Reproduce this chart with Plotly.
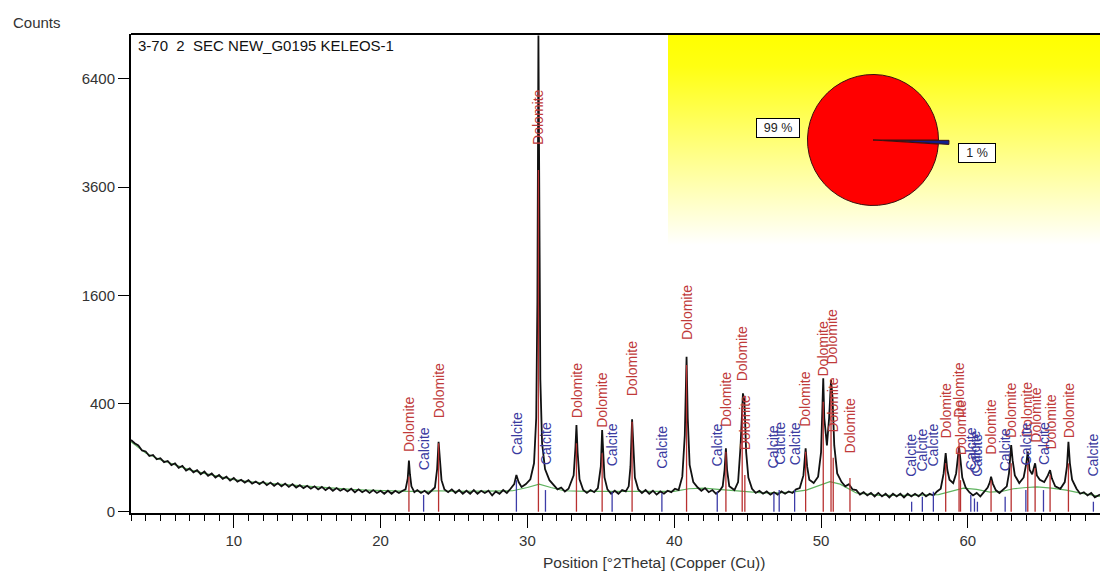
import base64
import numpy as np
import plotly.graph_objects as go

# ---------------- data ----------------
# measured pattern (°2Theta, counts)
pattern = [
    (3.0, 176), (3.25, 160), (3.5, 150), (3.75, 128), (4.0, 124), (4.25, 106), (4.5, 110), (4.75, 94),
    (5.0, 98), (5.25, 84), (5.5, 88), (5.75, 74), (6.0, 80), (6.25, 66), (6.5, 72), (6.75, 58),
    (7.0, 64), (7.25, 53), (7.5, 59), (7.75, 48), (8.0, 55), (8.25, 44), (8.5, 50), (8.75, 40),
    (9.0, 46), (9.25, 37), (9.5, 42), (9.75, 33), (10.0, 39), (10.25, 31), (10.5, 35), (10.75, 29),
    (11.0, 34), (11.25, 27), (11.5, 31), (11.75, 26), (12.0, 31), (12.25, 24), (12.5, 29), (12.75, 23),
    (13.0, 28), (13.25, 22), (13.5, 27), (13.75, 21), (14.0, 26), (14.25, 20), (14.5, 24), (14.75, 19),
    (15.0, 23), (15.25, 18), (15.5, 22), (15.75, 17), (16.0, 21), (16.25, 16), (16.5, 20), (16.75, 15),
    (17.0, 19), (17.25, 15), (17.5, 18), (17.75, 14), (18.0, 18), (18.25, 13), (18.5, 17), (18.75, 13),
    (19.0, 16), (19.25, 12), (19.5, 16), (19.75, 12), (20.0, 15), (20.25, 11), (20.5, 15), (20.75, 11),
    (21.0, 15), (21.25, 12), (21.5, 15),
    (21.7, 17), (21.85, 38), (21.93, 89), (22.0, 48), (22.1, 22),
    (22.3, 13), (22.5, 16), (22.75, 12), (23.0, 15), (23.25, 11), (23.5, 16),
    (23.7, 20), (23.85, 62), (23.95, 167), (24.05, 88), (24.15, 34), (24.35, 17),
    (24.6, 13), (24.85, 17), (25.1, 12), (25.35, 16), (25.6, 11), (25.85, 15), (26.1, 11), (26.35, 16),
    (26.6, 11), (26.85, 15), (27.1, 12), (27.35, 15), (27.6, 9), (27.85, 14), (28.1, 11), (28.35, 16),
    (28.6, 12), (28.85, 18),
    (29.1, 26), (29.25, 46), (29.4, 30), (29.6, 21), (29.9, 26), (30.2, 36),
    (30.45, 80), (30.6, 300), (30.68, 1500), (30.75, 7750), (30.8, 3200), (30.88, 600), (31.0, 160),
    (31.2, 62), (31.5, 34),
    (31.8, 24), (32.05, 17), (32.3, 20), (32.55, 14), (32.8, 18),
    (33.15, 45), (33.27, 140), (33.34, 257), (33.42, 120), (33.55, 36),
    (33.8, 16), (34.05, 12), (34.3, 16), (34.55, 13), (34.8, 19),
    (35.0, 70), (35.09, 228), (35.15, 120), (35.25, 40),
    (35.45, 17), (35.7, 11), (35.95, 15), (36.2, 11), (36.45, 16), (36.7, 14),
    (36.9, 22), (37.02, 70), (37.13, 292), (37.2, 140), (37.32, 40),
    (37.55, 17), (37.8, 12), (38.05, 16), (38.3, 11), (38.55, 15), (38.8, 10), (39.05, 14), (39.3, 11),
    (39.55, 15), (39.8, 13), (40.05, 18), (40.3, 16),
    (40.55, 42), (40.72, 200), (40.84, 821), (40.92, 300), (41.05, 75), (41.3, 30),
    (41.6, 20), (41.85, 15), (42.1, 19), (42.35, 13), (42.6, 16), (42.85, 11), (43.1, 15),
    (43.3, 22), (43.43, 60), (43.52, 137), (43.6, 60), (43.75, 22),
    (44.1, 16), (44.35, 30), (44.52, 150), (44.68, 479), (44.78, 420), (44.9, 120), (45.05, 40),
    (45.3, 18), (45.55, 12), (45.8, 15), (46.05, 11), (46.3, 14), (46.55, 10), (46.8, 13), (47.05, 10),
    (47.3, 14), (47.55, 11), (47.8, 14), (48.05, 12), (48.3, 17), (48.55, 19),
    (48.8, 45), (48.95, 137), (49.05, 70), (49.2, 35), (49.5, 28), (49.8, 42),
    (50.0, 120), (50.1, 400), (50.15, 608), (50.22, 300), (50.4, 150), (50.55, 300), (50.68, 593),
    (50.78, 450), (50.9, 150), (51.1, 50),
    (51.4, 30), (51.65, 22), (51.9, 26), (52.15, 17), (52.4, 16), (52.65, 10), (52.9, 13), (53.15, 9),
    (53.4, 12), (53.65, 8), (53.9, 12), (54.15, 8), (54.4, 11), (54.65, 7), (54.9, 11), (55.15, 8),
    (55.4, 11), (55.65, 7), (55.9, 11), (56.15, 8), (56.4, 11), (56.65, 8), (56.9, 12), (57.15, 8),
    (57.4, 11), (57.65, 9), (57.9, 14), (58.15, 18),
    (58.35, 50), (58.49, 117), (58.6, 60), (58.75, 35), (59.0, 28), (59.2, 50), (59.32, 100),
    (59.4, 144), (59.5, 90), (59.62, 40),
    (59.85, 20), (60.1, 13), (60.35, 9), (60.6, 12), (60.85, 8), (61.1, 14), (61.35, 20),
    (61.5, 30), (61.58, 42), (61.7, 27),
    (61.9, 16), (62.15, 12), (62.4, 17), (62.65, 22),
    (62.8, 50), (62.95, 152), (63.05, 90), (63.2, 45), (63.5, 28), (63.8, 40),
    (63.98, 80), (64.08, 123), (64.2, 60), (64.38, 48), (64.58, 80), (64.7, 45), (64.9, 35), (65.2, 30),
    (65.45, 45), (65.6, 59), (65.72, 38), (65.95, 22), (66.3, 18), (66.6, 30),
    (66.75, 70), (66.85, 167), (66.95, 80), (67.1, 35),
    (67.4, 18), (67.65, 11), (67.9, 13), (68.15, 9), (68.4, 12), (68.65, 7), (69.0, 10),
]

# fitted background (green)
bg_deg = [3, 4, 5, 6, 7, 8, 9, 10, 11, 12, 13, 14, 15, 16, 17, 18, 19, 20, 21, 22, 23, 24, 25, 26, 27, 28,
          29, 30, 30.8, 31.6, 32.5, 34, 36, 38, 40, 41, 42, 43, 44, 45, 46, 47, 48, 49, 50, 50.6, 51.3,
          52.4, 54, 56, 58, 58.8, 59.7, 60.6, 61.5, 62.3, 63.1, 64, 64.7, 65.7, 66.7, 67.6, 69]
bg_counts = [167, 118, 92, 74, 60, 50, 42, 35, 31, 28, 26, 24, 22, 20, 18.5, 17, 16, 15, 14, 14, 14, 15,
             14, 14, 14, 14, 15, 20, 26, 20, 15, 14, 14, 13, 14, 18, 19, 17, 15, 14, 12, 12, 13, 16, 24,
             31, 26, 12, 9, 9, 10, 14, 19, 17, 13, 14, 18, 20, 21, 19, 16, 12, 8]

# reference sticks
dolomite_pos = [21.93, 23.95, 30.75, 33.34, 35.09, 37.13, 40.84, 43.52, 44.63, 44.81, 48.95, 50.15,
                50.68, 50.83, 51.97, 58.49, 59.40, 59.50, 61.58, 62.95, 64.08, 64.58, 65.60, 66.85]
dolomite_counts = [42, 160, 3990, 160, 117, 277, 735, 123, 377, 46, 123, 413,
                   506, 99, 39, 80, 160, 34, 34, 80, 85, 65, 46, 80]
calcite_pos = [22.93, 29.25, 31.23, 35.77, 39.16, 42.93, 46.79, 47.15, 48.20, 56.17, 56.90, 57.65,
               60.20, 60.45, 60.65, 62.54, 63.95, 65.15, 68.55]
calcite_counts = [9.5, 34, 16, 13.7, 11.6, 13.7, 12, 16, 16, 3.4, 7.7, 13.7,
                  9.5, 6, 3.4, 7.7, 16, 16, 3.4]

# phase composition (pie)
phase_names = ["Calcite", "Dolomite"]
phase_pct = [1, 99]

y_tick_counts = [0, 400, 1600, 3600, 6400]
x_tick_vals = [10, 20, 30, 40, 50, 60]

sample_title = "3-70\u00a0 2\u00a0 SEC NEW_G0195 KELEOS-1"

# ---------------- styling ----------------
FONT = "Liberation Sans, Arial, sans-serif"
DOL_STICK = "#b83030"
DOL_TEXT = "#c03a3a"
CAL_STICK = "#3c3ca8"
CAL_TEXT = "#3a3aa0"

W, H = 1100, 571
ML, MR, MT, MB = 131, 0, 34, 58
PW, PH = W - ML - MR, H - MT - MB


def px_x(p):
    return (p - ML) / PW


def px_y(p):
    return (H - MB - p) / PH


def sq(v):
    return np.sqrt(np.asarray(v, dtype=float))


def stick_xy(pos, cnt):
    xs, ys = [], []
    for p, c in zip(pos, cnt):
        xs += [p, p, None]
        ys += [0.0, float(np.sqrt(c)), None]
    return xs, ys


pat_x = [p[0] for p in pattern]
pat_y = [p[1] for p in pattern]

fig = go.Figure()

fig.add_trace(go.Scatter(x=bg_deg, y=sq(bg_counts), mode="lines",
                         line=dict(color="#5fb35f", width=1.2), hoverinfo="skip"))
fig.add_trace(go.Scatter(x=pat_x, y=sq(pat_y), mode="lines",
                         line=dict(color="#111111", width=1.8), hoverinfo="skip"))

cx, cy = stick_xy(calcite_pos, calcite_counts)
fig.add_trace(go.Scatter(x=cx, y=cy, mode="lines", line=dict(color=CAL_STICK, width=1.3), hoverinfo="skip"))
dx, dy = stick_xy(dolomite_pos, dolomite_counts)
fig.add_trace(go.Scatter(x=dx, y=dy, mode="lines", line=dict(color=DOL_STICK, width=1.3), hoverinfo="skip"))

# pie inset
fig.add_trace(go.Pie(labels=phase_names, values=phase_pct, sort=False, direction="clockwise",
                     rotation=90, pull=[0.16, 0], textinfo="none", hoverinfo="skip",
                     marker=dict(colors=["#12208f", "#ff0000"], line=dict(color="#3a1010", width=1)),
                     domain=dict(x=[px_x(873 - 76), px_x(873 + 76)], y=[px_y(140 + 76), px_y(140 - 76)]),
                     showlegend=False))

annotations = []
for p, c in zip(dolomite_pos, dolomite_counts):
    annotations.append(dict(x=p, y=float(np.sqrt(c)), xref="x", yref="y", text="Dolomite",
                            textangle=-90, showarrow=False, xanchor="center", yanchor="bottom",
                            yshift=23, font=dict(family=FONT, size=14, color=DOL_TEXT)))
for p, c in zip(calcite_pos, calcite_counts):
    annotations.append(dict(x=p, y=float(np.sqrt(c)), xref="x", yref="y", text="Calcite",
                            textangle=-90, showarrow=False, xanchor="center", yanchor="bottom",
                            yshift=23, font=dict(family=FONT, size=14, color=CAL_TEXT)))

# pie labels
annotations.append(dict(x=px_x(778), y=px_y(128), xref="paper", yref="paper",
                        xanchor="center", yanchor="middle",
                        text=f"{phase_pct[1]} %", showarrow=False, bgcolor="white",
                        bordercolor="black", borderwidth=1, borderpad=1, width=40, height=16,
                        font=dict(family=FONT, size=12.5, color="#222")))
annotations.append(dict(x=px_x(977), y=px_y(153), xref="paper", yref="paper",
                        xanchor="center", yanchor="middle",
                        text=f"{phase_pct[0]} %", showarrow=False, bgcolor="white",
                        bordercolor="black", borderwidth=1, borderpad=1, width=34, height=16,
                        font=dict(family=FONT, size=12.5, color="#222")))

annotations.append(dict(x=0, y=1, xref="paper", yref="paper", xanchor="left", yanchor="top",
                        xshift=5, yshift=-1, text=sample_title, showarrow=False,
                        font=dict(family=FONT, size=15, color="#111")))
annotations.append(dict(x=px_x(37), y=px_y(23), xref="paper", yref="paper", text="Counts",
                        xanchor="center", yanchor="middle",
                        showarrow=False, font=dict(family=FONT, size=15, color="#333")))
annotations.append(dict(x=px_x(654), y=px_y(562), xref="paper", yref="paper",
                        xanchor="center", yanchor="middle",
                        text="Position [°2Theta] (Copper (Cu))", showarrow=False,
                        font=dict(family=FONT, size=15.5, color="#333")))

# yellow gradient panel
svg = ("<svg xmlns='http://www.w3.org/2000/svg' width='100' height='100' preserveAspectRatio='none'>"
       "<defs><linearGradient id='g' x1='0' y1='0' x2='0' y2='1'>"
       "<stop offset='0' stop-color='#ffff00'/><stop offset='0.15' stop-color='#ffff12'/>"
       "<stop offset='0.6' stop-color='#ffff90'/>"
       "<stop offset='1' stop-color='#ffffff'/></linearGradient></defs>"
       "<rect width='100' height='100' fill='url(#g)'/></svg>")
svg_uri = "data:image/svg+xml;base64," + base64.b64encode(svg.encode()).decode()

fig.update_layout(
    width=W, height=H, autosize=False,
    margin=dict(l=ML, r=MR, t=MT, b=MB, pad=0),
    paper_bgcolor="white", plot_bgcolor="white",
    showlegend=False, hovermode=False,
    font=dict(family=FONT, size=13, color="#333"),
    annotations=annotations,
    images=[dict(source=svg_uri, xref="paper", yref="paper", x=px_x(668), y=px_y(35),
                 sizex=(1100 - 668) / PW, sizey=(245 - 35) / PH, xanchor="left", yanchor="top",
                 sizing="stretch", layer="below")],
    shapes=[dict(type="line", xref="paper", yref="paper", x0=0, x1=1, y0=1, y1=1,
                 line=dict(color="black", width=2))],
    xaxis=dict(range=[3, 69], tickvals=x_tick_vals, ticks="outside", ticklen=13, tickwidth=1,
               tickcolor="black", showline=True, linecolor="black", linewidth=2,
               showgrid=False, zeroline=False, automargin=False,
               tickfont=dict(family=FONT, size=15, color="#333"),
               minor=dict(dtick=1, tick0=0, ticks="outside", ticklen=6, tickcolor="black",
                          tickwidth=1, showgrid=False)),
    yaxis=dict(range=[-0.24, 88.3], tickvals=list(sq(y_tick_counts)),
               ticktext=[str(v) for v in y_tick_counts], ticks="outside", ticklen=11,
               tickwidth=1, tickcolor="black", showline=True, linecolor="black", linewidth=2,
               showgrid=False, zeroline=False, automargin=False,
               tickfont=dict(family=FONT, size=15, color="#333")),
)

fig.write_html("out.html", config={"displayModeBar": False},
               post_script="document.body.style.margin='0';document.body.style.overflow='hidden';")
